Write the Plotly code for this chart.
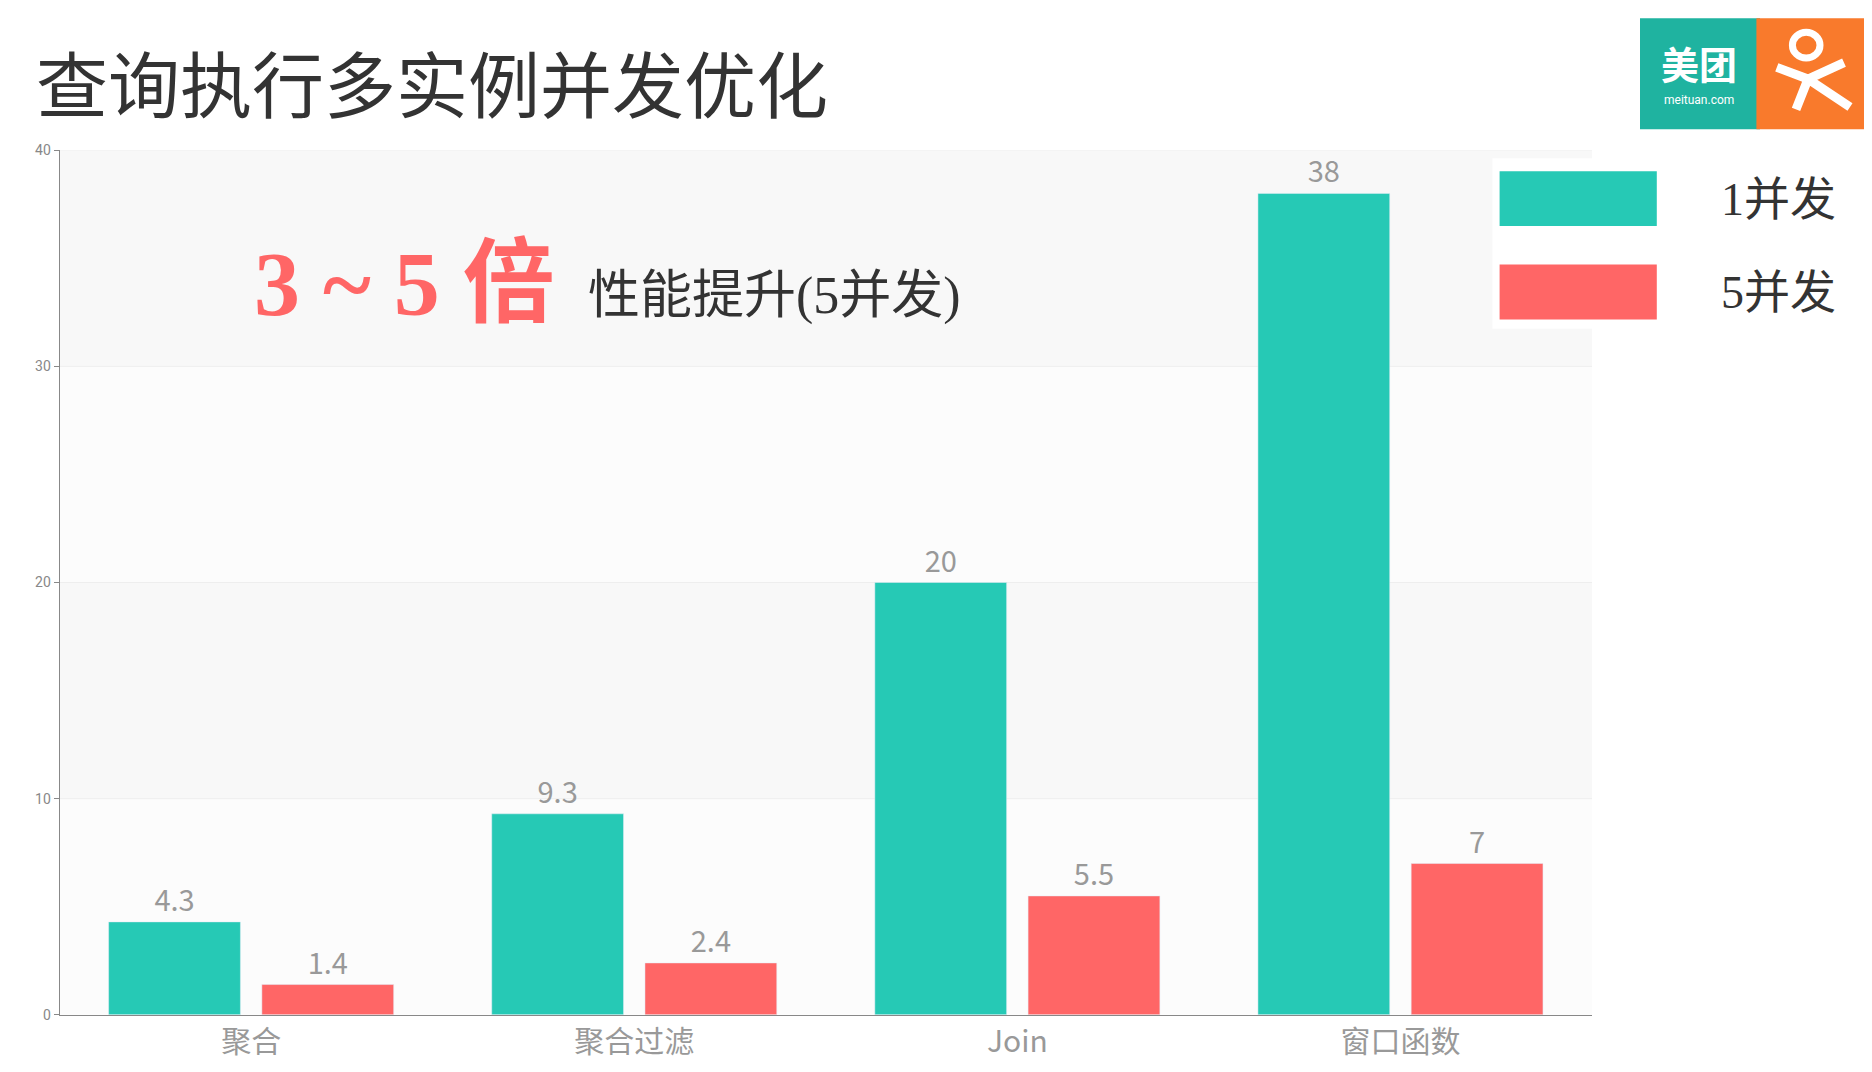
import plotly.graph_objects as go

categories = ["聚合", "聚合过滤", "Join", "窗口函数"]
series_names = ["1并发", "5并发"]
values_1 = [4.3, 9.3, 20, 38]
values_5 = [1.4, 2.4, 5.5, 7]
labels_1 = ["4.3", "9.3", "20", "38"]
labels_5 = ["1.4", "2.4", "5.5", "7"]
ytick_vals = [0, 10, 20, 30, 40]

TEAL = "#26c9b5"
RED = "#ff6666"
W, H = 1560.0, 905.0
X = lambda x: x / W
Y = lambda y: 1 - y / H
FONT = "Noto Sans CJK SC"

fig = go.Figure()
for name, vals, labs, col in [(series_names[0], values_1, labels_1, TEAL),
                              (series_names[1], values_5, labels_5, RED)]:
    fig.add_trace(go.Bar(x=categories, y=vals, name=name, marker_color=col,
                         text=labs, textposition="outside", cliponaxis=False,
                         textfont=dict(size=29, color="#999999", family=FONT)))

shapes = []
for i, (a, b) in enumerate([(0, 10), (10, 20), (20, 30), (30, 40)]):
    shapes.append(dict(type="rect", xref="paper", yref="y", x0=X(43), x1=X(1320), y0=a, y1=b,
                       fillcolor="#f8f8f8" if i % 2 == 1 else "#fcfcfc", line_width=0, layer="below"))
for v in ytick_vals[1:]:
    shapes.append(dict(type="line", xref="paper", yref="y", x0=X(43), x1=X(1320), y0=v, y1=v,
                       line=dict(color="#eeeeee", width=1), layer="below"))
# legend
shapes.append(dict(type="rect", xref="paper", yref="paper", x0=X(1237), x1=X(1380), y0=Y(268), y1=Y(122),
                   fillcolor="white", line_width=0))
shapes.append(dict(type="rect", xref="paper", yref="paper", x0=X(1243), x1=X(1374), y0=Y(180), y1=Y(133),
                   fillcolor=TEAL, line_width=0))
shapes.append(dict(type="rect", xref="paper", yref="paper", x0=X(1243), x1=X(1374), y0=Y(260), y1=Y(213),
                   fillcolor=RED, line_width=0))
# logo
shapes.append(dict(type="rect", xref="paper", yref="paper", x0=X(1360), x1=X(1460), y0=Y(97), y1=Y(2),
                   fillcolor="#1fb3a0", line_width=0))
shapes.append(dict(type="rect", xref="paper", yref="paper", x0=X(1457), x1=X(1552), y0=Y(97), y1=Y(2),
                   fillcolor="#f97a2c", line_width=0))
shapes.append(dict(type="circle", xref="paper", yref="paper", x0=X(1487), x1=X(1510), y0=Y(36), y1=Y(14),
                   fillcolor="rgba(0,0,0,0)", line=dict(color="white", width=7)))
shapes.append(dict(type="path", xref="paper", yref="paper",
                   path=f"M {X(1474)},{Y(44)} L {X(1500)},{Y(54)} L {X(1530)},{Y(40)} M {X(1500)},{Y(54)} L {X(1490)},{Y(80)} M {X(1500)},{Y(54)} L {X(1535)},{Y(78)}",
                   line=dict(color="white", width=9)))

def A(text, x, y, size, color, family, xanchor="left"):
    return dict(text=text, x=X(x), y=Y(y), xref="paper", yref="paper", xanchor=xanchor,
                yanchor="middle", font=dict(size=size, color=color, family=family), showarrow=False)

SERIF = "Liberation Serif, " + FONT
ann = [
    A("查询执行多实例并发优化", 22, 55, 72, "#333333", FONT),
    A("<b>3 ~ 5 倍</b>", 203, 230, 92, RED, SERIF),
    A("性能提升(5并发)", 482, 240, 52, "#333333", SERIF),
    A("1并发", 1475, 157, 46, "#333333", SERIF, "center"),
    A("5并发", 1475, 237, 46, "#333333", SERIF, "center"),
    A("<b>美团</b>", 1409, 40, 38, "white", FONT, "center"),
    A("meituan.com", 1409, 72, 12, "white", "Roboto", "center"),
]

fig.update_layout(
    width=1872, height=1072, margin=dict(l=0, r=0, t=0, b=0),
    paper_bgcolor="white", plot_bgcolor="rgba(0,0,0,0)", showlegend=False,
    barmode="group", bargap=0.2, bargroupgap=0.14,
    shapes=shapes, annotations=ann,
    xaxis=dict(domain=[X(43), X(1320)], showline=True, linecolor="#888888", ticks="",
               tickfont=dict(size=30, color="#999999", family=FONT), showgrid=False),
    yaxis=dict(domain=[Y(856), Y(115)], range=[0, 40], tickvals=ytick_vals, showline=True,
               linecolor="#888888", ticks="outside", ticklen=5, tickcolor="#888888",
               tickfont=dict(size=14, color="#888888", family="Roboto"), showgrid=False, zeroline=False),
)
fig.write_html("out.html")
